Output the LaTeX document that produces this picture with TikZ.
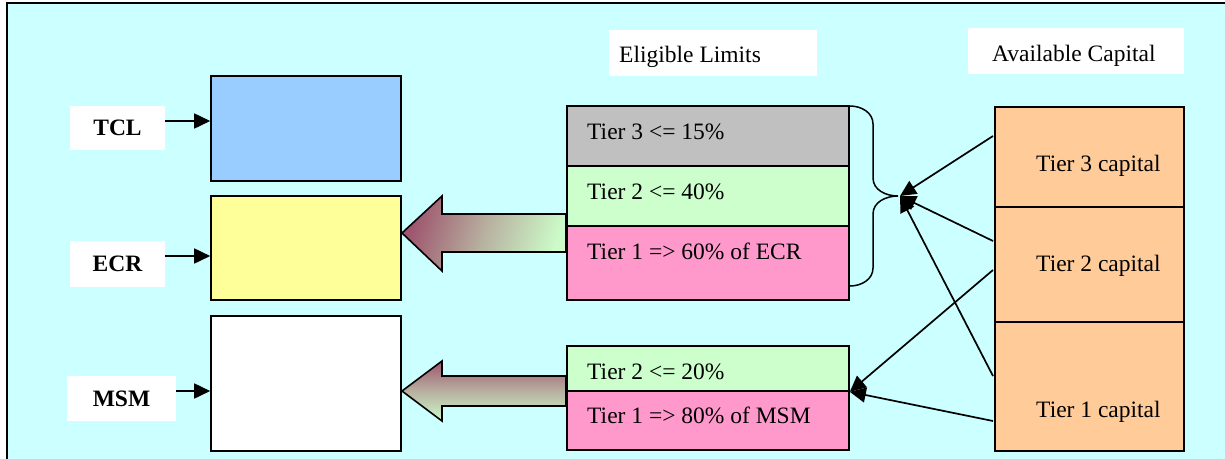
\documentclass[tikz,border=0pt]{standalone}
\usepackage{fontspec}
\setmainfont{Liberation Serif}
\usetikzlibrary{arrows.meta}
\definecolor{bg}{HTML}{CCFFFF}
\definecolor{cblue}{HTML}{99CCFF}
\definecolor{cyellow}{HTML}{FFFF99}
\definecolor{cgray}{HTML}{C0C0C0}
\definecolor{cgreen}{HTML}{CCFFCC}
\definecolor{cpink}{HTML}{FF99CC}
\definecolor{corange}{HTML}{FFCC99}
\definecolor{mauve}{RGB}{158,86,110}
\definecolor{lgreen}{RGB}{204,250,200}
\begin{document}
\begin{tikzpicture}[x=1pt,y=-1pt,
  font=\fontsize{23.5}{28}\selectfont,
  box/.style={draw=black, line width=1.6pt, inner sep=0pt},
  lbl/.style={fill=white, inner sep=0pt, font=\fontsize{23.5}{28}\selectfont\bfseries},
  wbox/.style={fill=white, inner sep=0pt},
  txt/.style={anchor=base west, inner sep=0pt},
  arr/.style={line width=1.7pt, -{Triangle[length=16pt,width=15pt]}},
  blockarrow/.style={draw=black, line width=1.6pt}
]
\useasboundingbox (0,0) rectangle (1225,458);
\fill[bg] (7,3) rectangle (1226,459);
\draw[line width=1.8pt] (7,460) -- (7,3) -- (1227,3);

% header boxes
\node[wbox, minimum width=208pt, minimum height=46pt] (elbox) at (713,53) {};
\node[txt] (eltxt) at (619,62) {Eligible Limits};
\node[wbox, minimum width=216pt, minimum height=46pt] (acbox) at (1076,51) {};
\node[txt] (actxt) at (992,61) {Available Capital};

% left label boxes
\node[lbl, minimum width=95pt, minimum height=44pt] (tcl) at (117.5,128) {TCL};
\node[lbl, minimum width=95pt, minimum height=46pt] (ecr) at (117.5,264) {ECR};
\node[lbl, minimum width=109pt, minimum height=45pt] (msm) at (121.5,398.5) {MSM};

% left boxes
\node[box, fill=cblue, minimum width=190pt, minimum height=105pt] (blue) at (306,128.5) {};
\node[box, fill=cyellow, minimum width=190pt, minimum height=104pt] (yellow) at (306,248) {};
\node[box, fill=white, minimum width=190pt, minimum height=135pt] (white) at (306,383.5) {};

\draw[arr] ([yshift=7pt]tcl.east) -- ([yshift=7pt]tcl.east -| blue.west);
\draw[arr] ([yshift=8pt]ecr.east) -- ([yshift=8pt]ecr.east -| yellow.west);
\draw[arr] ([yshift=7.5pt]msm.east) -- ([yshift=7.5pt]msm.east -| white.west);

% block arrows
\shadedraw[blockarrow, top color=mauve, bottom color=lgreen, middle color=mauve!45!lgreen, shading angle=72]
  (566,214) -- (442,214) -- (442,196) -- (402,233) -- (442,271) -- (442,252) -- (566,252) -- cycle;
\shadedraw[blockarrow, top color=mauve, bottom color=lgreen, middle color=mauve!45!lgreen]
  (566,376) -- (442,376) -- (442,361) -- (402,391) -- (442,421) -- (442,406) -- (566,406) -- cycle;

% eligible limits stacks
\node[box, fill=cgray, minimum width=282pt, minimum height=60pt] (g3) at (708,136) {};
\node[box, fill=cgreen, minimum width=282pt, minimum height=60pt] (g2) at (708,196) {};
\node[box, fill=cpink, minimum width=282pt, minimum height=74pt] (g1) at (708,263) {};
\node[txt] (g3t) at (587,139) {Tier 3 <= 15\%};
\node[txt] (g2t) at (587,199) {Tier 2 <= 40\%};
\node[txt] (g1t) at (587,259) {Tier 1 => 60\% of ECR};

\node[box, fill=cgreen, minimum width=282pt, minimum height=45pt] (m2) at (708,368.5) {};
\node[box, fill=cpink, minimum width=282pt, minimum height=59pt] (m1) at (708,420.5) {};
\node[txt] (m2t) at (587,379) {Tier 2 <= 20\%};
\node[txt] (m1t) at (587,423) {Tier 1 => 80\% of MSM};

% available capital stack
\node[box, fill=corange, minimum width=189pt, minimum height=100pt] (c3) at (1089.5,157) {};
\node[box, fill=corange, minimum width=189pt, minimum height=115pt] (c2) at (1089.5,264.5) {};
\node[box, fill=corange, minimum width=189pt, minimum height=129pt] (c1) at (1089.5,386.5) {};
\node[txt] (c3t) at (1036,171) {Tier 3 capital};
\node[txt] (c2t) at (1036,271) {Tier 2 capital};
\node[txt] (c1t) at (1036,417) {Tier 1 capital};

% brace
\coordinate (bt) at (850,106);
\coordinate (bb) at (850,286);
\coordinate (btip) at (898,196);
\draw[line width=1.5pt] (bt) to[out=0,in=90] (873,124) -- (873,178) to[out=-90,in=180] (btip)
  to[out=180,in=90] (873,214) -- (873,268) to[out=-90,in=0] (bb);

% capital arrows
\coordinate (tip) at (900,196);
\coordinate (a3) at (993,136);
\coordinate (a2) at (993,241);
\coordinate (a1) at (993,376);
\coordinate (b2) at (993,270);
\coordinate (b1) at (993,421);
\draw[arr] (a3) -- (tip);
\draw[arr] (a2) -- (tip);
\draw[arr] (a1) -- (tip);
\draw[arr] (b2) -- (m2.south east);
\draw[arr] (b1) -- (m2.south east);
\end{tikzpicture}
\end{document}
